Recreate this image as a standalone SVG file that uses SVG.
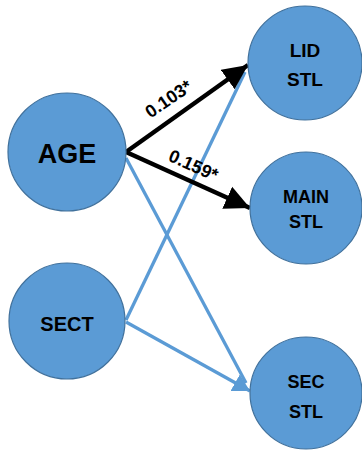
<svg xmlns="http://www.w3.org/2000/svg" width="362" height="450" viewBox="0 0 362 450">
<style>
.node{fill:#5b9bd5;stroke:#41719c;stroke-width:1.2}
.lbl{font-family:"Liberation Sans",Arial,sans-serif;font-weight:bold;fill:#000;text-anchor:middle}
.blk{stroke:#000;stroke-width:4.5;fill:none}
.blu{stroke:#5b9bd5;stroke-width:3.3;fill:none}
.coef{font-family:"Liberation Sans",Arial,sans-serif;font-weight:bold;font-size:18px;fill:#000;text-anchor:middle}
</style>
<defs>
<marker id="ab" markerUnits="userSpaceOnUse" markerWidth="26" markerHeight="26" viewBox="0 0 26 26" refX="25" refY="13" orient="auto"><path d="M0,1 L25,13 L0,25 Z" fill="#000"/></marker>
<marker id="au" markerUnits="userSpaceOnUse" markerWidth="18" markerHeight="20" viewBox="0 0 18 20" refX="17" refY="10" orient="auto"><path d="M0,0.5 L17,10 L0,19.5 Z" fill="#5b9bd5"/></marker>
</defs>
<g id="connectors">
<line class="blu" x1="126" y1="158" x2="246" y2="383"/>
<line class="blu" x1="126" y1="322" x2="250" y2="391" marker-end="url(#au)"/>
<line class="blu" x1="126" y1="320" x2="245" y2="72"/>
<line class="blk" x1="126" y1="152" x2="248" y2="65" marker-end="url(#ab)"/>
<line class="blk" x1="126" y1="152" x2="250" y2="208" marker-end="url(#ab)"/>
<text class="coef" transform="translate(172,104) rotate(-34.5)">0.103*</text>
<text class="coef" transform="translate(191,171) rotate(24.3)">0.159*</text>
</g>
<g id="age"><circle class="node" cx="67" cy="152" r="59"/><text class="lbl" x="67" y="163" font-size="27">AGE</text></g>
<g id="sect"><circle class="node" cx="67" cy="321" r="58"/><text class="lbl" x="67" y="331" font-size="20">SECT</text></g>
<g id="lid"><circle class="node" cx="305" cy="63" r="57"/><text class="lbl" x="305" y="57" font-size="19">LID</text><text class="lbl" x="305" y="86" font-size="19">STL</text></g>
<g id="main"><circle class="node" cx="306" cy="208" r="56"/><text class="lbl" x="306" y="203" font-size="18">MAIN</text><text class="lbl" x="306" y="228" font-size="18">STL</text></g>
<g id="sec"><circle class="node" cx="306" cy="393" r="56"/><text class="lbl" x="306" y="388" font-size="18">SEC</text><text class="lbl" x="306" y="418" font-size="18">STL</text></g>
</svg>
